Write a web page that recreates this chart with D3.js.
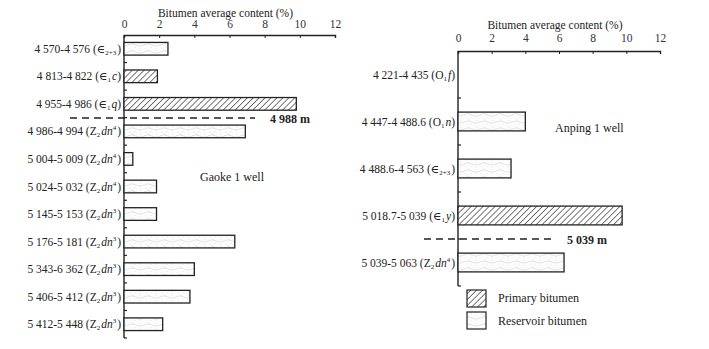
<!DOCTYPE html>
<html>
<head>
<meta charset="utf-8">
<title>Bitumen content</title>
<script src="https://d3js.org/d3.v7.min.js"></script>
<style>
	body { margin: 0; padding: 0; background: white; overflow: hidden; }
	svg, svg text { font-family: 'Liberation Serif', 'DejaVu Serif', serif !important; }
</style>
</head>
<body>
<script>
// Gaoke 1 well
var gaokeDepths = ["4 570-4 576", "4 813-4 822", "4 955-4 986", "4 986-4 994", "5 004-5 009", "5 024-5 032",
	"5 145-5 153", "5 176-5 181", "5 343-6 362", "5 406-5 412", "5 412-5 448"];
// formation pieces: [text, style] n=normal, b=subscript, p=superscript, i=italic
var gaokeForm = [
	[["∈", "n"], ["2+3", "b"]],
	[["∈", "n"], ["1", "b"], ["c", "i"]],
	[["∈", "n"], ["1", "b"], ["q", "i"]],
	[["Z", "n"], ["2", "b"], ["dn", "i"], ["4", "p"]],
	[["Z", "n"], ["2", "b"], ["dn", "i"], ["4", "p"]],
	[["Z", "n"], ["2", "b"], ["dn", "i"], ["4", "p"]],
	[["Z", "n"], ["2", "b"], ["dn", "i"], ["3", "p"]],
	[["Z", "n"], ["2", "b"], ["dn", "i"], ["3", "p"]],
	[["Z", "n"], ["2", "b"], ["dn", "i"], ["3", "p"]],
	[["Z", "n"], ["2", "b"], ["dn", "i"], ["3", "p"]],
	[["Z", "n"], ["2", "b"], ["dn", "i"], ["3", "p"]]
];
var gaokeValues = [2.5, 1.9, 9.8, 6.9, 0.5, 1.85, 1.85, 6.3, 4.0, 3.75, 2.2];
var gaokeTypes = ["r", "p", "p", "r", "r", "r", "r", "r", "r", "r", "r"];

// Anping 1 well
var anpingDepths = ["4 221-4 435", "4 447-4 488.6", "4 488.6-4 563", "5 018.7-5 039", "5  039-5 063"];
var anpingForm = [
	[["O", "n"], ["1", "b"], ["f", "i"]],
	[["O", "n"], ["1", "b"], ["n", "i"]],
	[["∈", "n"], ["2+3", "b"]],
	[["∈", "n"], ["1", "b"], ["y", "i"]],
	[["Z", "n"], ["2", "b"], ["dn", "i"], ["4", "p"]]
];
var anpingValues = [0, 4.0, 3.15, 9.75, 6.3];
var anpingTypes = ["r", "r", "r", "p", "r"];

var xTicks = [0, 2, 4, 6, 8, 10, 12];
var axisTitle = "Bitumen average content (%)";
var legendLabels = ["Primary bitumen", "Reservoir bitumen"];

var W = 709, H = 349;
var svg = d3.select("body").append("svg").attr("width", W).attr("height", H).attr("fill", "#222");
var defs = svg.append("defs");

var hatch = defs.append("pattern").attr("id", "hatch")
	.attr("patternUnits", "userSpaceOnUse").attr("width", 4.2).attr("height", 4.2)
	.attr("patternTransform", "rotate(45)");
hatch.append("rect").attr("width", 4.2).attr("height", 4.2).attr("fill", "white");
hatch.append("line").attr("x1", 0).attr("y1", 0).attr("x2", 0).attr("y2", 4.2)
	.attr("stroke", "#222").attr("stroke-width", 1.2);

var res = defs.append("pattern").attr("id", "res")
	.attr("patternUnits", "userSpaceOnUse").attr("width", 16).attr("height", 7);
res.append("rect").attr("width", 16).attr("height", 7).attr("fill", "#fdfdfd");
res.append("path").attr("d", "M0,3 Q4,0.5 8,3 T16,3").attr("fill", "none")
	.attr("stroke", "#d2d2d2").attr("stroke-width", 0.6);
[[2, 6], [7, 5.5], [12, 6.2], [5, 1], [13, 1.2]].forEach(function(d) {
	res.append("circle").attr("cx", d[0]).attr("cy", d[1]).attr("r", 0.4).attr("fill", "#c8c8c8");
});

function fillFor(t) { return t === "p" ? "url(#hatch)" : "url(#res)"; }

function drawChart(o) {
	var x = d3.scaleLinear().domain([0, 12]).range([o.x0, o.x1]);
	var y = d3.scaleBand().domain(d3.range(o.depths.length)).range([o.yBand0, o.yBand1])
		.paddingInner(o.pad).paddingOuter(o.pad / 2);
	var g = svg.append("g");

	g.append("text").attr("x", (o.x0 + o.x1) / 2 - 4).attr("y", o.titleY)
		.attr("text-anchor", "middle").attr("font-size", 11.5).text(axisTitle);

	// top axis
	var ax = g.append("g").attr("transform", "translate(0," + o.axisY + ")")
		.call(d3.axisTop(x).tickValues(xTicks).tickSize(-3).tickPadding(o.tickPad));
	ax.attr("font-size", 11.5);
	ax.select(".domain").attr("stroke", "#222").attr("stroke-width", 1.4);
	ax.selectAll(".tick line").attr("stroke", "#222");
	ax.selectAll(".tick text").attr("fill", "#333");

	// left axis with boundary ticks
	g.append("line").attr("x1", o.x0).attr("x2", o.x0).attr("y1", o.axisY).attr("y2", o.yEnd)
		.attr("stroke", "#222").attr("stroke-width", 1.4);
	var step = y.step();
	g.selectAll(".bt").data(d3.range(o.depths.length)).enter().append("line")
		.attr("x1", o.x0).attr("x2", o.x0 + 3)
		.attr("y1", function(i) { return y(i) + y.bandwidth() + step * y.paddingInner() / 2; })
		.attr("y2", function(i) { return y(i) + y.bandwidth() + step * y.paddingInner() / 2; })
		.attr("stroke", "#222").attr("stroke-width", 1.2);

	// bars
	o.values.forEach(function(v, i) {
		if (v <= 0) return;
		g.append("rect").attr("x", x(0)).attr("y", y(i))
			.attr("width", x(v) - x(0)).attr("height", y.bandwidth())
			.attr("fill", fillFor(o.types[i])).attr("stroke", "#222").attr("stroke-width", 1.3);
	});

	// category labels
	o.depths.forEach(function(dep, i) {
		var t = g.append("text").attr("x", o.x0 - 3).attr("y", y(i) + y.bandwidth() / 2 + 4)
			.attr("text-anchor", "end").attr("font-size", 11.5);
		t.append("tspan").text(dep + " (");
		o.forms[i].forEach(function(p) {
			var s = t.append("tspan").text(p[0]);
			if (p[1] === "i") s.attr("font-style", "italic");
			if (p[1] === "b") { s.attr("font-size", 7).attr("dy", 2); t.append("tspan").attr("dy", -2).text("\u200a"); }
			if (p[1] === "p") { s.attr("font-size", 7).attr("dy", -5); t.append("tspan").attr("dy", 5).text("\u200a"); }
		});
		t.append("tspan").text(")");
	});

	// depth marker
	g.append("line").attr("x1", o.dashX0).attr("x2", o.dashX1).attr("y1", o.dashY).attr("y2", o.dashY)
		.attr("stroke", "#222").attr("stroke-width", 1.3).attr("stroke-dasharray", "7,5");
	g.append("text").attr("x", o.dashX1 + 15).attr("y", o.dashY + 5).attr("font-size", 12)
		.attr("font-weight", "bold").text(o.mark);

	g.append("text").attr("x", o.wellX).attr("y", o.wellY).attr("font-size", 12).text(o.well);
}

drawChart({
	depths: gaokeDepths, forms: gaokeForm, values: gaokeValues, types: gaokeTypes,
	x0: 124, x1: 335, axisY: 35, yBand0: 35, yBand1: 338, yEnd: 338, pad: 0.54,
	titleY: 17, tickPad: 7, dashX0: 70, dashX1: 255, dashY: 118, mark: "4 988 m",
	well: "Gaoke 1 well", wellX: 200, wellY: 181
});

drawChart({
	depths: anpingDepths, forms: anpingForm, values: anpingValues, types: anpingTypes,
	x0: 458, x1: 660, axisY: 51, yBand0: 51, yBand1: 286, yEnd: 286, pad: 0.6,
	titleY: 29, tickPad: 9, dashX0: 424, dashX1: 552, dashY: 239, mark: "5 039 m",
	well: "Anping 1 well", wellX: 555, wellY: 132
});

// legend
var leg = svg.append("g");
["p", "r"].forEach(function(t, i) {
	leg.append("rect").attr("x", 467).attr("y", 290 + i * 22).attr("width", 19).attr("height", 17)
		.attr("fill", fillFor(t)).attr("stroke", "#222").attr("stroke-width", 1.2);
	leg.append("text").attr("x", 498).attr("y", 302 + i * 23).attr("font-size", 12).text(legendLabels[i]);
});
</script>
</body>
</html>
